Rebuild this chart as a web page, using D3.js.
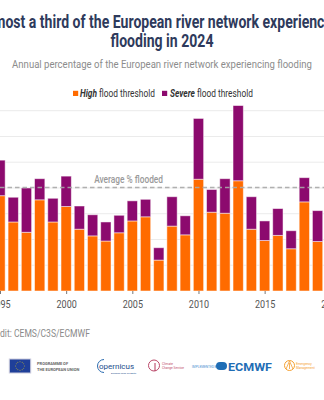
<!DOCTYPE html>
<html><head><meta charset="utf-8">
<script src="https://cdn.jsdelivr.net/npm/d3@7"></script>
<style>body{margin:0;background:#fff;overflow:hidden} svg{display:block;font-family:Roboto, "Noto Sans", sans-serif;}</style>
</head><body>
<svg id="c" width="324" height="400"></svg>
<script>
// ---- data (percentage of European river network) ----
const years  = [1995,1996,1997,1998,1999,2000,2001,2002,2003,2004,2005,2006,2007,2008,2009,2010,2011,2012,2013,2014,2015,2016,2017,2018,2019];
const high   = [18.5,13.4,11.4,17.7,13.4,16.4,12.0,10.7,9.7,11.3,13.6,14.4,6.0,12.6,10.9,21.7,15.3,15.1,21.4,12.0,9.8,10.8,8.2,17.3,9.6];
const severe = [6.9,4.8,8.6,4.1,4.6,5.9,4.5,4.1,3.7,3.4,3.9,3.4,2.4,5.7,3.7,11.8,4.4,6.7,14.6,6.3,3.8,5.2,3.5,4.7,6.0];
const averageFlooded = 20.1;
const xTickYears = [1995,2000,2005,2010,2015,2020];
const yTicks = [0,5,10,15,20,25,30,35];
const seriesNames = ["High","Severe"];
const colors = {High:"#ff6b00", Severe:"#8c0a6e"};

const svg = d3.select("#c");
const x = d3.scaleLinear().domain([1995,2020]).range([0,330.8]);
const y = d3.scaleLinear().domain([0,35]).range([291,110.7]);
const bw = 10.3;

function squeeze(g, target){
  const w = g.node().getBBox().width;
  return target / w;
}

// title
const tg2 = svg.append("g");
const t2 = tg2.append("text").attr("text-anchor","middle").attr("font-size",18).attr("font-weight",700)
  .attr("fill","#2e3a5c").text("flooding in 2024");
const r = squeeze(tg2, 103);
tg2.attr("transform",`translate(162,47) scale(${r},1)`);
const tg1 = svg.append("g");
tg1.append("text").attr("text-anchor","middle").attr("font-size",18).attr("font-weight",700)
  .attr("fill","#2e3a5c").text("Almost a third of the European river network experienced");
tg1.attr("transform",`translate(160,28) scale(${r},1)`);

// subtitle
const sg = svg.append("g");
sg.append("text").attr("text-anchor","middle").attr("font-size",11).attr("fill","#8c8c8c")
  .text("Annual percentage of the European river network experiencing flooding");
sg.attr("transform",`translate(162,67.5) scale(${squeeze(sg,300)},1)`);

// legend
const legendItems = [
  {name:"High", x:73, tx:80, w:75},
  {name:"Severe", x:162, tx:170, w:83}
];
legendItems.forEach(it=>{
  svg.append("rect").attr("x",it.x).attr("y",90.8).attr("width",5.2).attr("height",5.2).attr("fill",colors[it.name]);
  const lg = svg.append("g");
  const t = lg.append("text").attr("font-size",11).attr("fill","#333");
  t.append("tspan").attr("font-weight",700).attr("font-style","italic").text(it.name);
  t.append("tspan").text(" flood threshold");
  lg.attr("transform",`translate(${it.tx},96.6) scale(${squeeze(lg,it.w)},1)`);
});

// gridlines
svg.append("g").selectAll("line").data(yTicks.filter(d=>d>0)).join("line")
  .attr("x1",0).attr("x2",324).attr("y1",d=>y(d)).attr("y2",d=>y(d))
  .attr("stroke","#ebebeb").attr("stroke-width",1);

// stacked bars
const table = years.map((yr,i)=>({year:yr, High:high[i], Severe:severe[i]}));
const stack = d3.stack().keys(seriesNames)(table);
svg.append("g").selectAll("g").data(stack).join("g").attr("fill",d=>colors[d.key])
  .selectAll("rect").data(d=>d).join("rect")
  .attr("x",d=>x(d.data.year)-bw/2).attr("width",bw)
  .attr("y",d=>y(d[1])).attr("height",d=>y(d[0])-y(d[1]))
  .attr("stroke","rgba(255,255,255,0.55)").attr("stroke-width",0.9);

// average line
svg.append("line").attr("x1",0).attr("x2",324).attr("y1",y(averageFlooded)).attr("y2",y(averageFlooded))
  .attr("stroke","#a9a9a9").attr("stroke-width",1.4).attr("stroke-dasharray","4.5,3").attr("opacity",0.9);
const ag = svg.append("g");
ag.append("text").attr("text-anchor","end").attr("font-size",10.5).attr("font-weight",500).attr("fill","#9a9a9a")
  .text("Average % flooded");
ag.attr("transform",`translate(163,${y(averageFlooded)-4}) scale(${squeeze(ag,69)},1)`);

// x axis
const ax = svg.append("g").attr("transform","translate(0,291)")
  .call(d3.axisBottom(x).tickValues(xTickYears).tickFormat(d3.format("d")).tickSize(3).tickPadding(6));
ax.select(".domain").remove();
ax.selectAll(".tick line").attr("stroke","#777");
ax.selectAll(".tick text").attr("font-size",11).attr("fill","#555").attr("font-family","Roboto")
  .attr("transform","scale(0.82,1)");

// credit
const cg = svg.append("g");
cg.append("text").attr("font-size",11).attr("fill","#8a8a8a").text("Credit: CEMS/C3S/ECMWF");
cg.attr("transform",`translate(-13,337) scale(${squeeze(cg,103)},1)`);

// logos (simplified)
const lgo = svg.append("g");
lgo.append("rect").attr("x",9.3).attr("y",359).attr("width",21.4).attr("height",14).attr("fill","#1f3f99").attr("stroke","#ccd","stroke-width",0.5);
d3.range(12).forEach(i=>{
  const a = i/12*2*Math.PI;
  lgo.append("circle").attr("cx",20+4.3*Math.cos(a)).attr("cy",366+4.3*Math.sin(a)).attr("r",0.45).attr("fill","#ffdd00");
});
lgo.append("text").attr("x",37).attr("y",365).attr("font-size",4).attr("fill","#666").attr("font-weight",700).text("PROGRAMME OF");
lgo.append("text").attr("x",37).attr("y",370.5).attr("font-size",4).attr("fill","#666").attr("font-weight",700).text("THE EUROPEAN UNION");
// copernicus
lgo.append("path").attr("d","M104,359.5 A6.5,6.5 0 1 0 104,372.5").attr("fill","none").attr("stroke","#2b6cb0").attr("stroke-width",1);
lgo.append("text").attr("x",99).attr("y",369).attr("font-size",8).attr("fill","#1b4d8c").text("opernicus");
lgo.append("text").attr("x",111).attr("y",373.5).attr("font-size",2.5).attr("fill","#1b4d8c").text("Europe's eyes on Earth");
// climate change service
lgo.append("circle").attr("cx",154).attr("cy",365.5).attr("r",5.5).attr("fill","none").attr("stroke","#b3365a").attr("stroke-width",0.9);
lgo.append("line").attr("x1",155).attr("x2",155).attr("y1",363).attr("y2",371).attr("stroke","#b3365a").attr("stroke-width",1);
lgo.append("text").attr("x",162).attr("y",365).attr("font-size",3.2).attr("fill","#c04a6a").text("Climate");
lgo.append("text").attr("x",162).attr("y",368.8).attr("font-size",3.2).attr("fill","#c04a6a").text("Change Service");
// ECMWF
lgo.append("text").attr("x",192).attr("y",367.5).attr("font-size",3.2).attr("fill","#4a8fd0").text("IMPLEMENTED BY");
lgo.append("rect").attr("x",216).attr("y",362).attr("width",11).attr("height",8).attr("rx",4).attr("fill","#1f6db5");
lgo.append("text").attr("x",228).attr("y",370.5).attr("font-size",11).attr("font-weight",700).attr("fill","#1f6db5")
  .attr("textLength",44).attr("lengthAdjust","spacingAndGlyphs").text("ECMWF");
// emergency management
lgo.append("circle").attr("cx",289.5).attr("cy",365.5).attr("r",5).attr("fill","none").attr("stroke","#f5a030").attr("stroke-width",1);
lgo.append("path").attr("d","M289.5,361 L286,369 M289.5,361 L293,369 M289.5,363 L289.5,369").attr("stroke","#f5a030").attr("stroke-width",0.8);
lgo.append("text").attr("x",296).attr("y",365).attr("font-size",3.2).attr("fill","#f5a030").text("Emergency");
lgo.append("text").attr("x",296).attr("y",368.8).attr("font-size",3.2).attr("fill","#f5a030").text("Management");
</script>
</body></html>
